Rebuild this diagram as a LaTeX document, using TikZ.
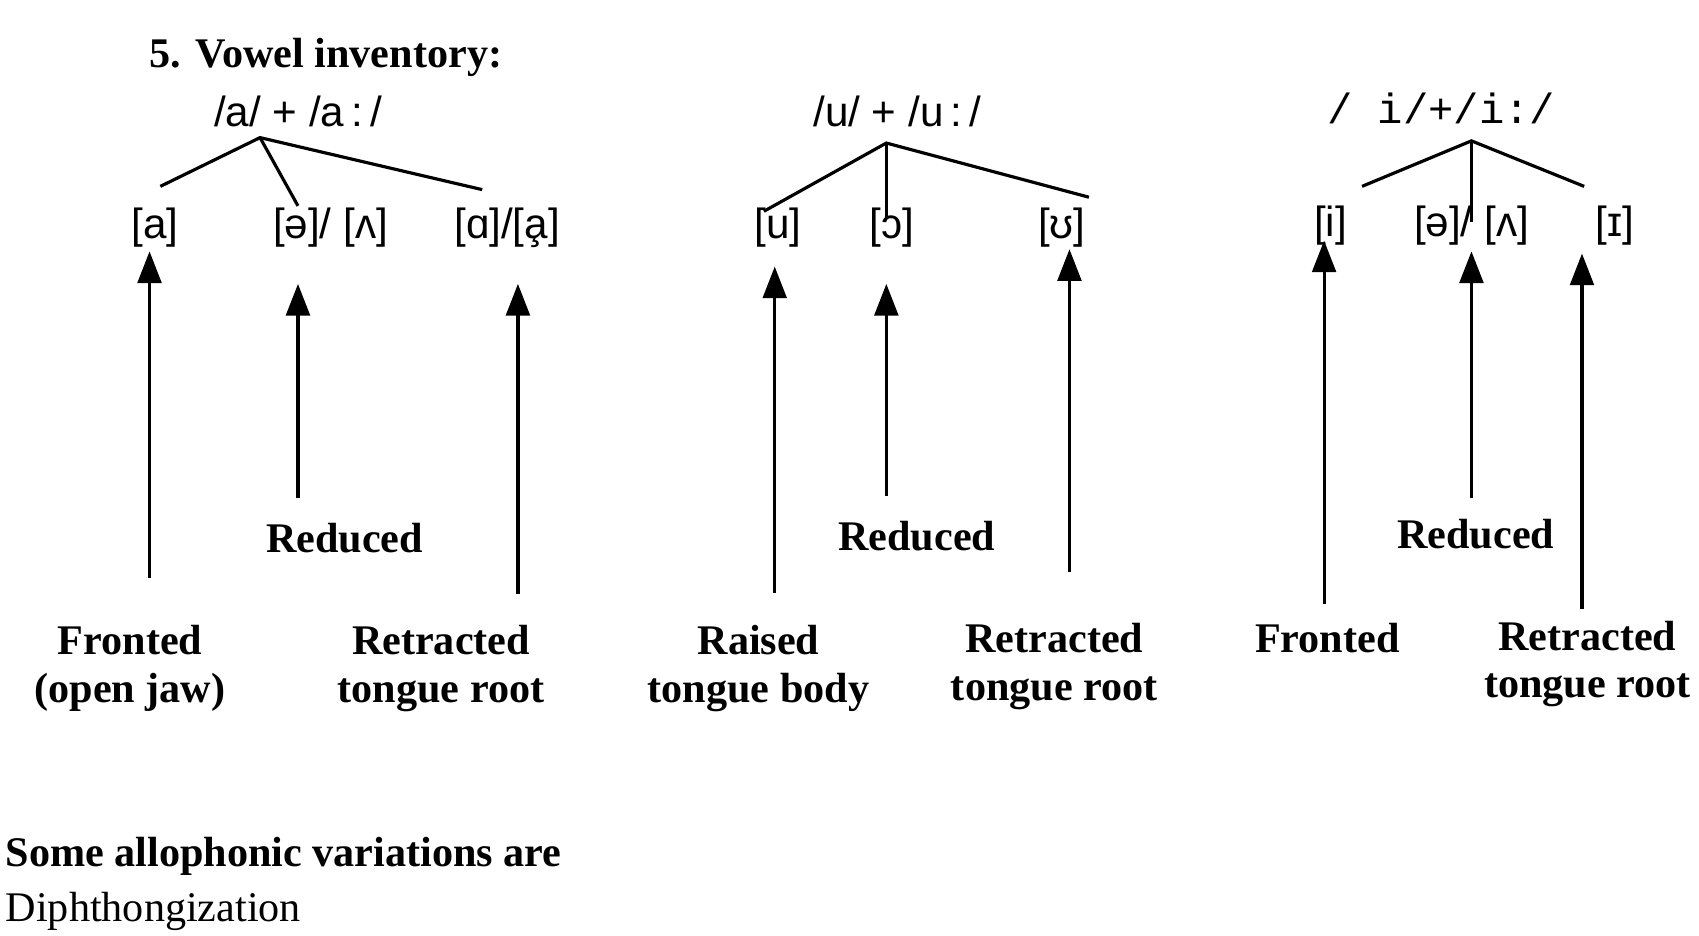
\documentclass[tikz,border=0pt]{standalone}
\usepackage{fontspec}
\setmainfont{Liberation Serif}
\newfontfamily\ipa{Liberation Sans}
\newfontfamily\ipam{Liberation Mono}
\usetikzlibrary{arrows.meta}
\begin{document}
\begin{tikzpicture}[x=0.02167cm,y=-0.02167cm,
  lab/.style={font=\fontsize{24}{27}\selectfont\bfseries,align=center,inner sep=0pt},
  ph/.style={font=\fontsize{24}{27}\selectfont\ipa,inner sep=0pt},
  br/.style={line width=1.8pt},
  ar/.style={line width=1.8pt,-{Triangle[width=13.5pt,length=18pt]}}]
\useasboundingbox (0,0) rectangle (1568,863);
\node[lab,anchor=base west] (title) at (138,62) {5. Vowel inventory:};
% group a
\node[ph] (ta) at (275,103) {/a/ + /a\,:\,/};
\coordinate (aa) at (240,127);
\draw[br] (148,172) -- (aa) -- (445,175); \draw[br] (aa) -- (275,190);
\node[ph] (a1) at (143,210) {[a]};
\node[ph] (a2) at (305,210) {[ə]/ [ʌ]};
\node[ph] (a3) at (468,210) {[ɑ]/[a̧]};
\coordinate (s1) at (138,533); \coordinate (e1) at (138,232);
\coordinate (s2) at (275,460); \coordinate (e2) at (275,262);
\coordinate (s3) at (478,548); \coordinate (e3) at (478,262);
\draw[ar] (s1)--(e1); \draw[ar] (s2)--(e2); \draw[ar] (s3)--(e3);
\node[lab] (r1) at (318,497) {Reduced};
\node[lab] (f1) at (120,617) {Fronted\\(open jaw)};
\node[lab] (t1) at (407,617) {Retracted\\tongue root};
% group u
\node[ph] (tu) at (828,103) {/u/ + /u\,:\,/};
\coordinate (au) at (818,132);
\draw[br] (705,195) -- (au) -- (1005,182); \draw[br] (au) -- (818,200);
\node[ph] (u1) at (718,210) {[u]};
\node[ph] (u2) at (823,210) {[ɔ]};
\node[ph] (u3) at (980,210) {[ʊ]};
\coordinate (s4) at (715,547); \coordinate (e4) at (715,246);
\coordinate (s5) at (818,458); \coordinate (e5) at (818,262);
\coordinate (s6) at (987,528); \coordinate (e6) at (987,230);
\draw[ar] (s4)--(e4); \draw[ar] (s5)--(e5); \draw[ar] (s6)--(e6);
\node[lab] (r2) at (846,495) {Reduced};
\node[lab] (f2) at (700,617) {Raised\\tongue body};
\node[lab] (t2) at (973,615) {Retracted\\tongue root};
% group i
\node[ph,font=\fontsize{24}{27}\selectfont\ipam] (ti) at (1330,100) {/ i/+/i:/};
\coordinate (ai) at (1358,130);
\draw[br] (1257,172) -- (ai) -- (1462,172); \draw[br] (ai) -- (1358,205);
\node[ph] (i1) at (1228,208) {[i]};
\node[ph] (i2) at (1358,208) {[ə]/ [ʌ]};
\node[ph] (i3) at (1490,208) {[ɪ]};
\coordinate (s7) at (1222,557); \coordinate (e7) at (1222,222);
\coordinate (s8) at (1358,460); \coordinate (e8) at (1358,232);
\coordinate (s9) at (1460,562); \coordinate (e9) at (1460,234);
\draw[ar] (s7)--(e7); \draw[ar] (s8)--(e8); \draw[ar] (s9)--(e9);
\node[lab] (r3) at (1362,493) {Reduced};
\node[lab] (f3) at (1225,589) {Fronted};
\node[lab] (t3) at (1465,613) {Retracted\\tongue root};
% bottom
\node[lab,anchor=base west] (some) at (5,800) {Some allophonic variations are};
\node[font=\fontsize{24}{27}\selectfont,inner sep=0pt,anchor=base west] (diph) at (5,850) {Diphthongization};
\end{tikzpicture}
\end{document}
